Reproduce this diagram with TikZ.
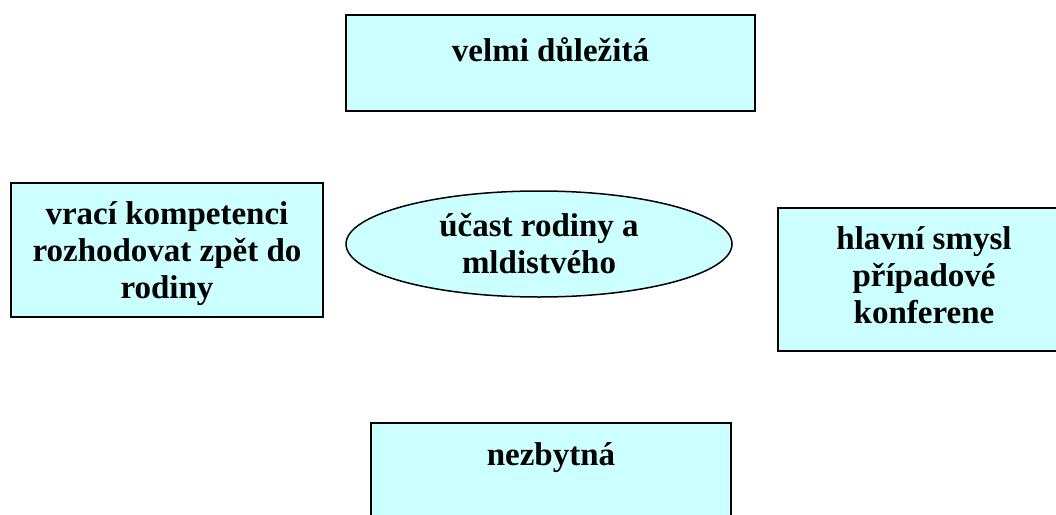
\documentclass[tikz,border=0pt]{standalone}
\usepackage{fontspec}
\setmainfont{Liberation Serif}
\usetikzlibrary{shapes.geometric}
\definecolor{boxcyan}{HTML}{CCFFFF}
\tikzset{
  box/.style={draw=black, line width=1.5pt, fill=boxcyan, inner sep=0pt},
  boxtext/.style={anchor=north, align=center, inner sep=0pt,
    font=\fontsize{33}{37}\selectfont\bfseries},
}
\begin{document}
\begin{tikzpicture}[x=1pt,y=-1pt]
      \useasboundingbox (0,0) rectangle (1056,514);
      \clip (0,0) rectangle (1056,514);

      \node[box, minimum width=409pt, minimum height=96pt] (top) at (550.5,63) {};
      \node[boxtext] (toptext) at ([yshift=-23pt]top.north) {velmi důležitá};

      \node[box, minimum width=312pt, minimum height=134pt] (left) at (167,250) {};
      \node[boxtext] (lefttext) at ([yshift=-19pt]left.north) {vrací kompetenci\\rozhodovat zpět do\\rodiny};

      \node[box, ellipse, minimum width=386pt, minimum height=106pt,
        align=center, font=\fontsize{33}{37}\selectfont\bfseries] (family) at (539,244) {účast rodiny a\\mldistvého};

      \node[box, minimum width=292pt, minimum height=143pt] (right) at (924,279.5) {};
      \node[boxtext] (righttext) at ([yshift=-19pt]right.north) {hlavní smysl\\případové\\konferene};

      \node[box, minimum width=360pt, minimum height=120pt] (bottom) at (551,483) {};
      \node[boxtext] (bottomtext) at ([yshift=-20pt]bottom.north) {nezbytná};
\end{tikzpicture}
\end{document}
